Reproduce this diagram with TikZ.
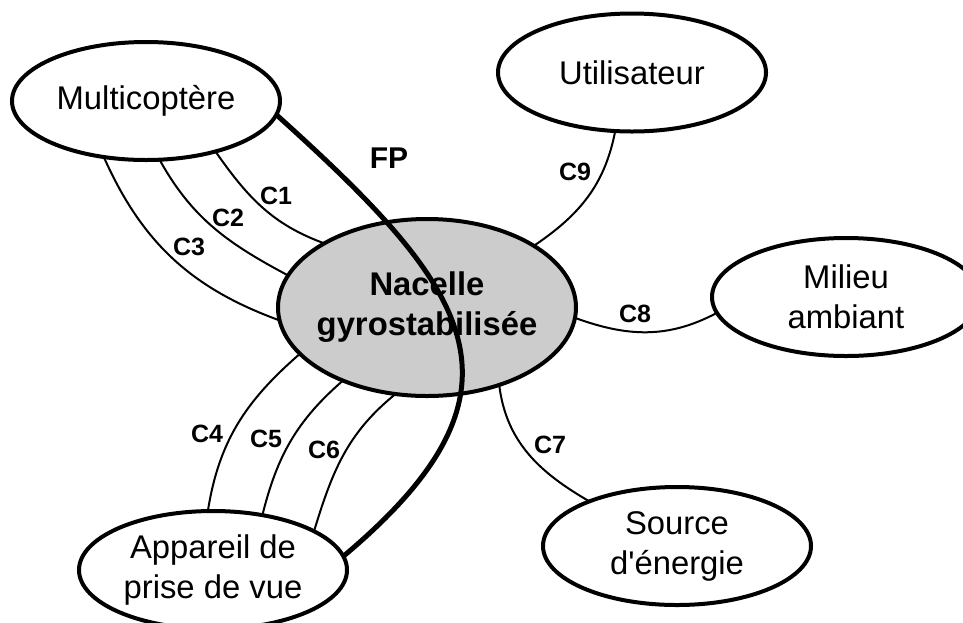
\documentclass[tikz,border=0pt]{standalone}
\usepackage{fontspec}
\setmainfont{Liberation Sans}
\usetikzlibrary{shapes.geometric}

\begin{document}
\begin{tikzpicture}[x=0.5pt, y=0.5pt,
	envt/.style={ellipse, draw, line width=2pt, minimum width=134pt, minimum height=59pt, inner sep=0pt, outer sep=0pt, align=center, font=\fontsize{16.4}{20}\selectfont},
	contact/.style={line width=1pt},
	lbl/.style={inner sep=0pt, font=\bfseries\fontsize{12.5}{15}\selectfont}]
	\clip (0,0) rectangle (963,-622);
	% Place nodes
	\node [envt, fill=black!20, minimum width=149pt, minimum height=88.5pt, inner xsep=-4pt, font=\bfseries\fontsize{16.4}{20}\selectfont] (nacelle) at (427,-307.5) {Nacelle\\gyrostabilisée};
	\node [envt] (multi) at (146,-101) {Multicoptère};
	\node [envt] (user) at (632,-72.5) {Utilisateur};
	\node [envt] (ambiant) at (846,-297) {Milieu\\ambiant};
	\node [envt] (energie) at (677,-546) {Source\\d\textquotesingle énergie};
	\node [envt] (camera) at (213,-570) {Appareil de\\prise de vue};

	% Contacts
	\draw [contact] (multi.-36) to[out=-55, in=160] (nacelle.148);
	\draw [contact] (multi.-77) to[out=-61, in=152] (nacelle.167);
	\draw [contact] (multi.-127) to[out=-66, in=160] (nacelle.185);
	\draw [contact] (nacelle.200) to[out=-139, in=81] (camera.95);
	\draw [contact] (nacelle.221) to[out=-139, in=76] (camera.48);
	\draw [contact] (nacelle.250) to[out=-141, in=73] (camera.21);
	\draw [contact] (nacelle.-47) to[out=-83, in=150] (energie.153);
	\draw [contact] (nacelle.-4) to[out=-20, in=-152] (ambiant.187);
	\draw [contact] (nacelle.30) to[out=34, in=-101] (user.-106);
	% FP
	\draw [line width=2.5pt] (multi.-6) to[out=-42, in=40, looseness=1.5] (camera.6);

	% Labels
	\node [lbl] (c1) at (276,-196) {C1};
	\node [lbl] (c2) at (228,-218) {C2};
	\node [lbl] (c3) at (189,-247) {C3};
	\node [lbl] (c4) at (207,-434) {C4};
	\node [lbl] (c5) at (266,-439) {C5};
	\node [lbl] (c6) at (324,-450) {C6};
	\node [lbl] (c7) at (550,-445) {C7};
	\node [lbl] (c8) at (635,-314) {C8};
	\node [lbl] (c9) at (575,-172) {C9};
	\node [lbl, font=\bfseries\fontsize{15}{18}\selectfont] (fp) at (389,-158) {FP};
\end{tikzpicture}
\end{document}
